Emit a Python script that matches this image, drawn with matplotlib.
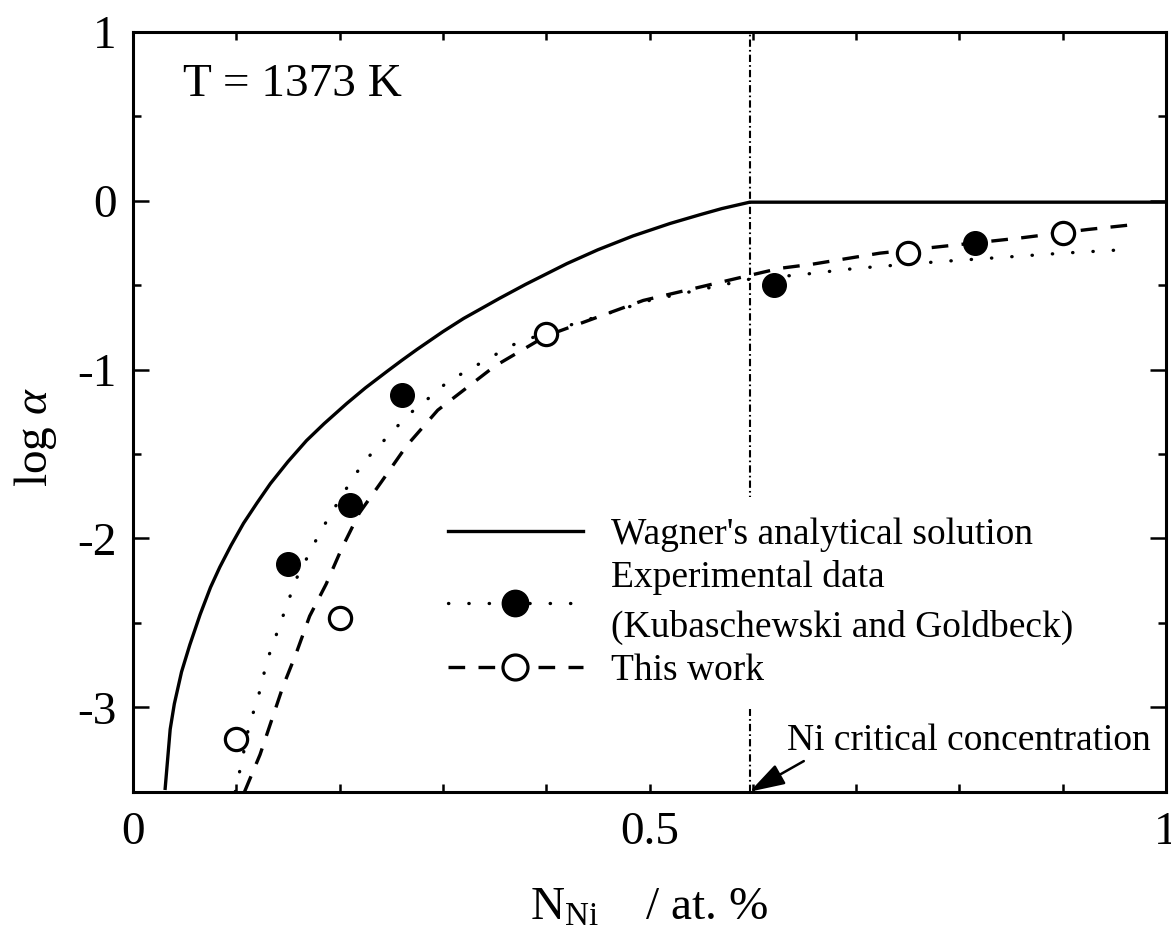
import matplotlib
matplotlib.use("Agg")
import matplotlib.pyplot as plt
from matplotlib.lines import Line2D
from matplotlib.ticker import MultipleLocator, FixedLocator, FixedFormatter

plt.rcParams['font.family'] = ['Liberation Serif', 'DejaVu Serif']
plt.rcParams['mathtext.fontset'] = 'custom'
plt.rcParams['mathtext.rm'] = 'Liberation Serif'
plt.rcParams['mathtext.it'] = 'Liberation Serif:italic'
plt.rcParams['axes.unicode_minus'] = False

# ---- data ----
wagner_x = [0.031, 0.036, 0.040, 0.047, 0.055, 0.065, 0.075, 0.084, 0.095, 0.107,
            0.120, 0.133, 0.150, 0.168, 0.185, 0.207, 0.225, 0.246, 0.260, 0.275,
            0.300, 0.320, 0.355, 0.380, 0.420, 0.450, 0.484, 0.520, 0.549, 0.570,
            0.597, 1.0]
wagner_y = [-3.49, -3.13, -2.98, -2.79, -2.63, -2.45, -2.29, -2.17, -2.04, -1.91,
            -1.79, -1.675, -1.545, -1.42, -1.32, -1.20, -1.108, -1.01, -0.946, -0.88,
            -0.775, -0.697, -0.577, -0.495, -0.372, -0.29, -0.208, -0.134, -0.082, -0.046,
            -0.008, -0.008]

exp_fit_x = [0.099, 0.105, 0.113, 0.120, 0.130, 0.144, 0.158, 0.178, 0.189, 0.214,
             0.229, 0.246, 0.266, 0.286, 0.305, 0.367, 0.40, 0.5, 0.6, 0.643,
             0.700, 0.781, 0.841, 0.90, 0.958]
exp_fit_y = [-3.5, -3.33, -3.09, -2.97, -2.72, -2.48, -2.24, -2.0, -1.88, -1.63,
             -1.51, -1.40, -1.27, -1.17, -1.07, -0.855, -0.78, -0.59, -0.46, -0.44,
             -0.40, -0.36, -0.335, -0.31, -0.29]

work_fit_x = [0.108, 0.123, 0.134, 0.145, 0.158, 0.171, 0.187, 0.202, 0.219, 0.241,
              0.265, 0.295, 0.35, 0.40, 0.494, 0.591, 0.626, 0.658, 0.723, 0.859,
              0.924, 0.97]
work_fit_y = [-3.5, -3.28, -3.08, -2.88, -2.68, -2.46, -2.27, -2.06, -1.85, -1.66,
              -1.45, -1.24, -0.98, -0.80, -0.59, -0.45, -0.40, -0.375, -0.31, -0.22,
              -0.17, -0.14]

exp_x = [0.150, 0.210, 0.260, 0.6205, 0.815]
exp_y = [-2.15, -1.80, -1.15, -0.50, -0.25]

work_x = [0.100, 0.2004, 0.400, 0.750, 0.900]
work_y = [-3.19, -2.47, -0.79, -0.31, -0.19]

critical_x = 0.597

xticks = [0, 0.5, 1]
xticklabels = ['0', '0.5', '1']
yticks = [-3, -2, -1, 0, 1]
yticklabels = ['-3', '-2', '-1', '0', '1']

labels = ["Wagner's analytical solution",
          "Experimental data\n(Kubaschewski and Goldbeck)",
          "This work"]

# ---- figure ----
fig = plt.figure(figsize=(11.71, 9.38), dpi=100)
ax = fig.add_axes([0.11358, 0.15597, 0.88215, 0.80991])

lw = 2.4
ax.plot(wagner_x, wagner_y, color='black', lw=lw, solid_capstyle='butt',
        solid_joinstyle='round', zorder=3)
ax.plot(exp_fit_x, exp_fit_y, color='black', lw=lw, linestyle=(0, (0.1, 6)),
        dash_capstyle='round', zorder=3)
ax.plot(work_fit_x, work_fit_y, color='black', lw=lw, linestyle=(0, (5, 4)),
        dash_capstyle='butt', zorder=3)
ax.plot(exp_x, exp_y, linestyle='none', marker='o', ms=17, mfc='black', mec='black', zorder=4)
ax.plot(work_x, work_y, linestyle='none', marker='o', ms=16, mfc='white', mec='black',
        mew=2.3, zorder=4)

ax.axvline(critical_x, color='black', lw=1.5, linestyle=(0, (3.5, 1.5, 0.8, 1.5)), zorder=2)

ax.set_xlim(0, 1)
ax.set_ylim(-3.5, 1)

ax.xaxis.set_major_locator(FixedLocator(xticks))
ax.xaxis.set_major_formatter(FixedFormatter(xticklabels))
ax.xaxis.set_minor_locator(MultipleLocator(0.1))
ax.yaxis.set_major_locator(FixedLocator(yticks))
ax.yaxis.set_major_formatter(FixedFormatter(yticklabels))
ax.yaxis.set_minor_locator(MultipleLocator(0.5))

ax.tick_params(axis='both', which='both', direction='in', top=True, right=True,
               width=1.8, labelsize=34)
ax.tick_params(axis='x', which='both', length=6, pad=14)
ax.tick_params(axis='y', which='major', length=11.5, pad=12)
ax.tick_params(axis='y', which='minor', length=6)
for s in ax.spines.values():
    s.set_linewidth(2.2)

ax.set_xlabel(r'N$_{\mathrm{Ni}}$    / at. %', fontsize=34, labelpad=24)
ax.set_ylabel(r'log $\mathit{\alpha}$', fontsize=34)
ax.yaxis.set_label_coords(-0.072, 0.467)

ax.text(0.048, 0.686, 'T = 1373 K', fontsize=34, ha='left', va='center')

ax.annotate('Ni critical concentration', xy=(critical_x, -3.5), xytext=(0.633, -3.20),
            fontsize=27, ha='left', va='center',
            arrowprops=dict(arrowstyle='-|>,head_length=0.8,head_width=0.25',
                            color='black', lw=1.8, shrinkA=0, shrinkB=0,
                            relpos=(0.06, 0.0)))

handles = [
    Line2D([], [], color='black', lw=lw),
    Line2D([], [], color='black', lw=lw, linestyle=(0, (0.1, 6)), dash_capstyle='round',
           marker='o', ms=19, mfc='black', mec='black'),
    Line2D([], [], color='black', lw=lw, linestyle=(0, (5, 4)), marker='o', ms=18,
           mfc='white', mec='black', mew=2.3),
]
leg = ax.legend(handles, labels, loc='upper left',
                bbox_to_anchor=(427 / 1171, 1 - 497 / 938),
                bbox_transform=fig.transFigure, borderaxespad=0,
                fontsize=27, handlelength=3.6, handletextpad=0.75, labelspacing=0.22,
                borderpad=0.55, numpoints=1, frameon=True, fancybox=False)
leg.get_texts()[1].set_linespacing(1.55)
leg.get_frame().set_facecolor('white')
leg.get_frame().set_edgecolor('none')
leg.get_frame().set_alpha(1)

fig.savefig('out.png', dpi=100)
